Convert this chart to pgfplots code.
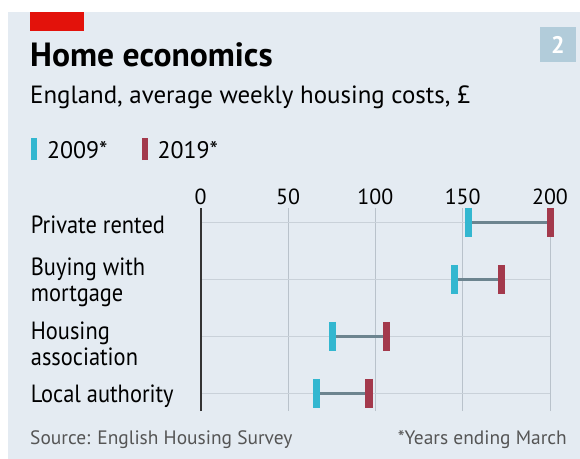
\documentclass[border=0pt]{standalone}
\usepackage{pgfplots}
\usepackage{pgfplotstable}
\pgfplotsset{compat=1.18}
\usepackage{fontspec}
\setmainfont{PT Sans}
\newfontfamily\labelfont[FakeStretch=0.9]{PT Sans}

\definecolor{panel}{HTML}{E4EBF2}
\definecolor{econred}{HTML}{E3120B}
\definecolor{boxblue}{HTML}{B2CCDA}
\definecolor{c09}{HTML}{33B7D0}
\definecolor{c19}{HTML}{A3394C}
\definecolor{conn}{HTML}{6C848F}
\definecolor{gridv}{HTML}{B9C2CB}
\definecolor{gridh}{HTML}{C9D1D9}
\definecolor{foot}{HTML}{555555}

% row: 4 = top (Private rented) ... 1 = bottom (Local authority)
\pgfplotstableread{
row y2009 y2019
4 153.4 200.2
3 145.4 172.3
2 75.4  106.3
1 66.2  96.4
}\costs

\begin{document}
\begin{tikzpicture}
\begin{scope}[x=1bp,y=1bp]
  \useasboundingbox (0,0) rectangle (580,-459);
  \fill[white] (0,0) rectangle (580,-459);
  \fill[panel] (8,-12) rectangle (580,-459);
  \fill[econred] (30,-12) rectangle (84,-31);
  \fill[boxblue] (540,-27) rectangle (576,-62);
  \node[white, inner sep=0pt, font=\bfseries\fontsize{24}{24}\selectfont] at (558,-45) {2};
  \node[anchor=base west, inner sep=0pt, font=\bfseries\fontsize{33.7}{33.7}\selectfont] at (30,-67) {Home economics};
  \node[anchor=base west, inner sep=0pt, font=\fontsize{25}{25}\selectfont] at (30,-104) {England, average weekly housing costs, £};
  \node[anchor=base west, inner sep=0pt, text=foot, font=\fontsize{19.5}{19.5}\selectfont] at (30,-444) {Source: English Housing Survey};
  \node[anchor=base east, inner sep=0pt, text=foot, font=\fontsize{19.5}{19.5}\selectfont] at (567,-444) {*Years ending March};
\end{scope}

\begin{axis}[
  at={(200.7bp,-411bp)}, anchor=south west,
  scale only axis, width=349.3bp, height=203bp,
  xmin=0, xmax=200, ymin=0.69, ymax=4.25,
  clip=false,
  axis x line*=top, axis y line*=left,
  x axis line style={draw=none},
  y axis line style={draw=black!80, line width=2bp},
  major tick length=0pt,
  xtick={0,50,100,150,200},
  xticklabel style={font=\fontsize{22}{22}\selectfont, inner sep=0pt, anchor=base, yshift=3bp},
  /pgf/number format/assume math mode=true,
  ytick={1,2,3,4},
  yticklabels={Local authority, {\rule{0pt}{27bp}Housing\\association}, {Buying with\\mortgage}, Private rented},
  yticklabel style={font=\labelfont\fontsize{25}{26}\selectfont, align=left, anchor=west, inner sep=0pt, xshift=-170bp, yshift=-3bp},
  xmajorgrids, ymajorgrids,
  x grid style={draw=gridv, line width=1bp},
  y grid style={draw=gridh, line width=1bp},
  legend columns=2,
  legend style={draw=none, fill=none, inner sep=0pt, outer sep=0pt,
    at={(axis description cs:-0.4858,1.2906)}, anchor=west,
    font=\fontsize{24}{24}\selectfont,
    nodes={inner sep=0pt},
    column sep=10bp,
    /tikz/every even column/.append style={column sep=34bp}},
]
  \addplot[only marks, mark=none, forget plot,
    error bars/.cd, x dir=plus, x explicit, error mark=none,
    error bar style={draw=conn, line width=3bp}]
    table[x=y2009, y=row, x error expr=\thisrow{y2019}-\thisrow{y2009}] {\costs};
  \addplot[only marks, mark=|, mark size=14.5bp,
    mark options={draw=c09, line width=7.5bp},
    legend image code/.code={\draw[c09, line width=6bp] (3bp,-9bp) -- (3bp,13bp);}]
    table[x=y2009, y=row] {\costs};
  \addlegendentry{2009*}
  \addplot[only marks, mark=|, mark size=14.5bp,
    mark options={draw=c19, line width=7.5bp},
    legend image code/.code={\draw[c19, line width=6bp] (3bp,-9bp) -- (3bp,13bp);}]
    table[x=y2019, y=row] {\costs};
  \addlegendentry{2019*}
\end{axis}
\end{tikzpicture}
\end{document}
